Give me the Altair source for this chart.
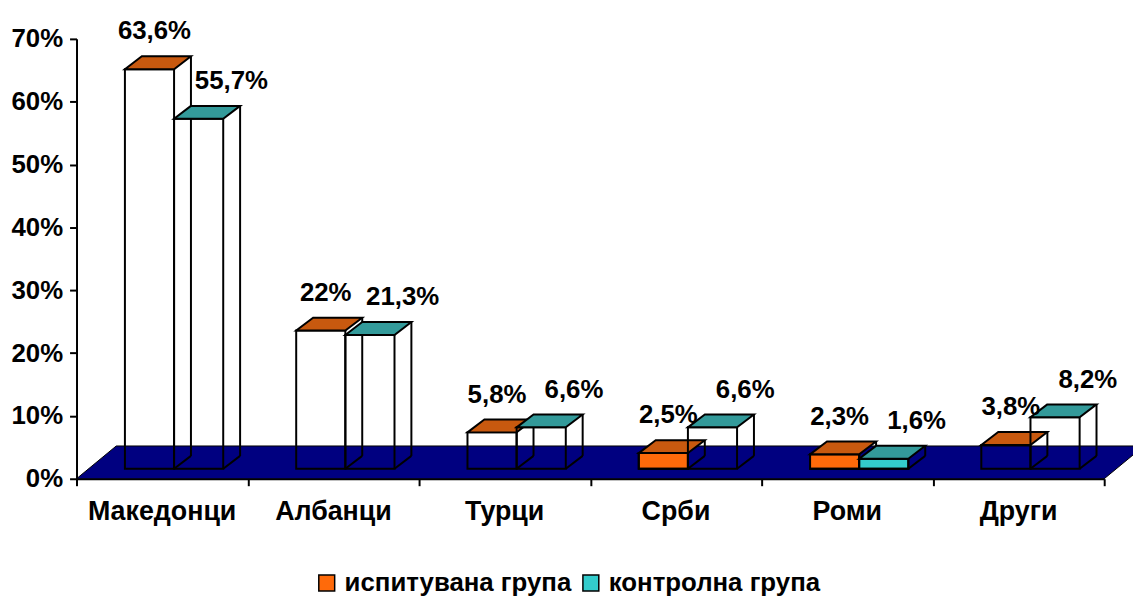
import altair as alt
import pandas as pd

# ---------------- data ----------------
categories = ["Македонци", "Албанци", "Турци", "Срби", "Роми", "Други"]
series_names = ["испитувана група", "контролна група"]
ispituvana = [63.6, 22, 5.8, 2.5, 2.3, 3.8]
kontrolna = [55.7, 21.3, 6.6, 6.6, 1.6, 8.2]
y_ticks = [0, 10, 20, 30, 40, 50, 60, 70]

# ---------------- styles ----------------
top_colors = ["#C8590F", "#339A9A"]
front_colors = ["#FF6A0A", "#33CCCC"]
floor_color = "#000080"
FONT = "Liberation Sans"
FS = 26

W, H = 1035, 443
YMAX = 70
N = len(categories)
PXX = W / N
PXY = H / YMAX


def ux(px):
    return px / PXX


def uy(px):
    return px / PXY


BW = ux(49.5)          # bar width
SHIFT = ux(12)         # bars sit in mid depth of the floor
BASE = uy(10)
DDX, DDY = ux(17), uy(13)   # bar depth
FDX, FDY = ux(40), uy(33)   # floor depth
LBL_SHIFT = [ux(-12), ux(16)]

rows = []
for s, vals in enumerate([ispituvana, kontrolna]):
    for i, v in enumerate(vals):
        L = i + 0.5 - BW + SHIFT + s * BW
        R = L + BW
        t = BASE + v
        rows.append(dict(cat=categories[i], series=series_names[s], s=s, i=i, v=v,
                         L=L, R=R, b=BASE, t=t,
                         label=f"{v:g}".replace(".", ",") + "%",
                         lx=(L + R) / 2 + DDX + LBL_SHIFT[s],
                         ly=t + DDY,
                         filled=bool(t < FDY)))
bars = pd.DataFrame(rows)

tops = []
edges = []
for r in rows:
    key = f"{r['s']}-{r['i']}"
    tops.append(dict(key=key, s=r["s"], y=r["t"], x=r["L"], x2=r["R"]))
    tops.append(dict(key=key, s=r["s"], y=r["t"] + DDY, x=r["L"] + DDX, x2=r["R"] + DDX))
    edges.append(dict(s=r["s"], x=r["R"], y=r["b"], x2=r["R"] + DDX, y2=r["b"] + DDY))
    edges.append(dict(s=r["s"], x=r["R"] + DDX, y=r["b"] + DDY, x2=r["R"] + DDX, y2=r["t"] + DDY))
tops_df = pd.DataFrame(tops)
edges_df = pd.DataFrame(edges)

floor_df = pd.DataFrame({"y": [0, FDY], "x": [0, FDX], "x2": [N, N + FDX]})
cat_df = pd.DataFrame({"x": [i + 0.5 for i in range(N)], "y": [0] * N, "label": categories})

xscale = alt.Scale(domain=[0, N], nice=False, zero=False)
yscale = alt.Scale(domain=[0, YMAX], nice=False)

xaxis = alt.Axis(values=list(range(N + 1)), labels=False, tickSize=7, tickColor="black",
                 tickWidth=2, domainColor="black", domainWidth=2, grid=False)
yaxis = alt.Axis(values=y_ticks, labelExpr="datum.value + '%'", tickSize=7, tickColor="black",
                 tickWidth=2, domainColor="black", domainWidth=2, grid=False,
                 labelFont=FONT, labelFontSize=FS, labelFontWeight="bold", labelColor="black",
                 labelPadding=7)


def X(f):
    return alt.X(f, type="quantitative", scale=xscale, axis=xaxis, title=None)


def Y(f):
    return alt.Y(f, type="quantitative", scale=yscale, axis=yaxis, title=None)


floor = alt.Chart(floor_df).mark_area(orient="horizontal", fill=floor_color, stroke="black",
                                      strokeWidth=1).encode(
    y=Y("y"), x=X("x"), x2="x2:Q",
)

legend = alt.Legend(orient="none", legendX=239, legendY=535, direction="horizontal",
                    symbolType="square", symbolSize=256, symbolStrokeColor="black",
                    symbolStrokeWidth=1.5, labelFont=FONT, labelFontSize=FS,
                    labelFontWeight="bold", labelColor="black", labelLimit=600,
                    columnPadding=6, labelOffset=5)
color = alt.Color("series:N", scale=alt.Scale(domain=series_names, range=front_colors),
                  legend=legend, title=None)

layers = [floor]
for s in range(2):
    fronts_filled = alt.Chart(bars).transform_filter(
        f"datum.s == {s} && datum.filled").mark_rect(stroke="black", strokeWidth=2).encode(
        x=X("L"), x2="R:Q", y=Y("b"), y2="t:Q", color=color)
    fronts = alt.Chart(bars).transform_filter(f"datum.s == {s}").mark_rect(
        fillOpacity=0, stroke="black", strokeWidth=2).encode(
        x=X("L"), x2="R:Q", y=Y("b"), y2="t:Q")
    edge_l = alt.Chart(edges_df).transform_filter(f"datum.s == {s}").mark_rule(
        color="black", strokeWidth=2).encode(x=X("x"), x2="x2:Q", y=Y("y"), y2="y2:Q")
    top_l = alt.Chart(tops_df).transform_filter(f"datum.s == {s}").mark_area(
        orient="horizontal", fill=top_colors[s], stroke="black", strokeWidth=2).encode(
        y=Y("y"), x=X("x"), x2="x2:Q", detail="key:N")
    layers += [fronts_filled, fronts, edge_l, top_l]

labels = alt.Chart(bars).mark_text(font=FONT, fontSize=FS, fontWeight="bold", color="black",
                                   baseline="alphabetic", dy=-17).encode(
    x=X("lx"), y=Y("ly"), text="label:N")
cat_labels = alt.Chart(cat_df).mark_text(font=FONT, fontSize=27, fontWeight="bold", color="black",
                                         baseline="alphabetic", dy=42).encode(
    x=X("x"), y=Y("y"), text="label:N")
layers += [labels, cat_labels]

chart = alt.layer(*layers).properties(
    width=W, height=H, autosize="none",
    padding={"left": 69, "top": 29, "right": 29, "bottom": 118},
).configure(font=FONT).configure_view(stroke=None)

chart.save("out.html", embed_options={"renderer": "svg", "actions": False})
